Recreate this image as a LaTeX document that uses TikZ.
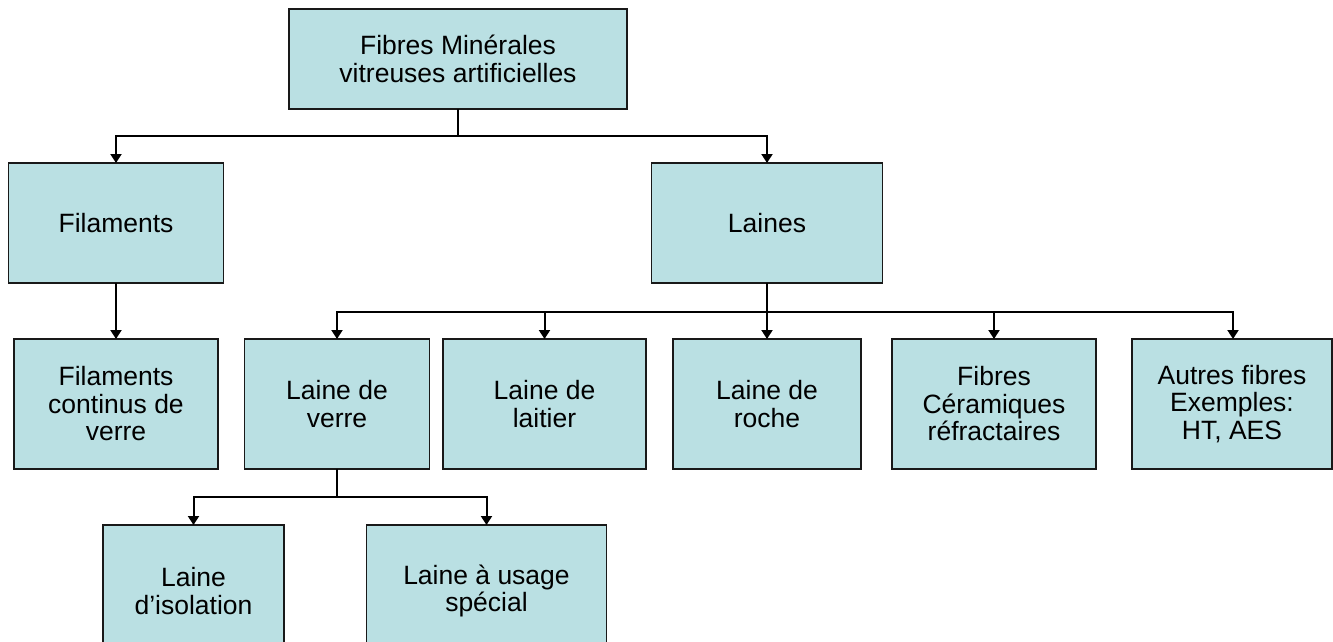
\documentclass[tikz,border=0pt]{standalone}
\usepackage{fontspec}
\setmainfont{Liberation Sans}
\usetikzlibrary{arrows.meta}
\definecolor{boxfill}{RGB}{186,224,227}
\definecolor{boxline}{RGB}{25,25,25}
\tikzset{
  box/.style={draw=boxline, line width=1.8pt, fill=boxfill, inner sep=0pt, outer sep=0pt,
    align=center, font=\fontsize{26.5}{27.5}\selectfont, text=black},
  conn/.style={draw=black, line width=2pt},
  arr/.style={conn, -{Triangle[width=11pt,length=9pt]}}
}
\begin{document}
\begin{tikzpicture}[x=1pt,y=-1pt]
\useasboundingbox (0,0) rectangle (1333,641);
\clip (0,0) rectangle (1333,641);
% top
\node[box, minimum width=338pt, minimum height=100pt] (top) at (458,59) {Fibres Minérales\\vitreuses artificielles};
% row 2
\node[box, minimum width=215pt, minimum height=120pt] (fil) at (116,223) {Filaments};
\node[box, minimum width=231pt, minimum height=120pt] (lai) at (767,223) {Laines};
% row 3
\node[box, minimum width=204pt, minimum height=130pt] (fc) at (116,404) {Filaments\\continus de\\verre};
\node[box, minimum width=185pt, minimum height=130pt] (lv) at (337,404) {Laine de\\verre};
\node[box, minimum width=203pt, minimum height=130pt] (ll) at (544.5,404) {Laine de\\laitier};
\node[box, minimum width=188pt, minimum height=130pt] (lr) at (767,404) {Laine de\\roche};
\node[box, minimum width=204pt, minimum height=130pt] (fcr) at (994,404) {Fibres\\Céramiques\\réfractaires};
\node[box, minimum width=200pt, minimum height=130pt] (af) at (1232,404) {Autres fibres\\Exemples:\\HT, AES};
% row 4
\node[box, minimum width=181pt, minimum height=132pt] (li) at (193.5,591) {Laine\\d’isolation};
\node[box, minimum width=240pt, minimum height=132pt] (lu) at (486.5,591) {Laine à usage\\spécial};
% junctions
\coordinate (j1) at (458,136);
\coordinate (j2) at (767,312);
\coordinate (j3) at (337,497);
% connectors
\draw[conn] (top.south) -- (j1);
\draw[arr] (j1) -| (fil.north);
\draw[arr] (j1) -| (lai.north);
\draw[arr] (fil.south) -- (fc.north);
\draw[conn] (lai.south) -- (j2);
\draw[arr] (j2) -| (lv.north);
\draw[arr] (j2) -| (ll.north);
\draw[arr] (j2) -- (lr.north);
\draw[arr] (j2) -| (fcr.north);
\draw[arr] (j2) -| ([xshift=1pt]af.north);
\draw[conn] (lv.south) -- (j3);
\draw[arr] (j3) -| (li.north);
\draw[arr] (j3) -| (lu.north);
\end{tikzpicture}
\end{document}
